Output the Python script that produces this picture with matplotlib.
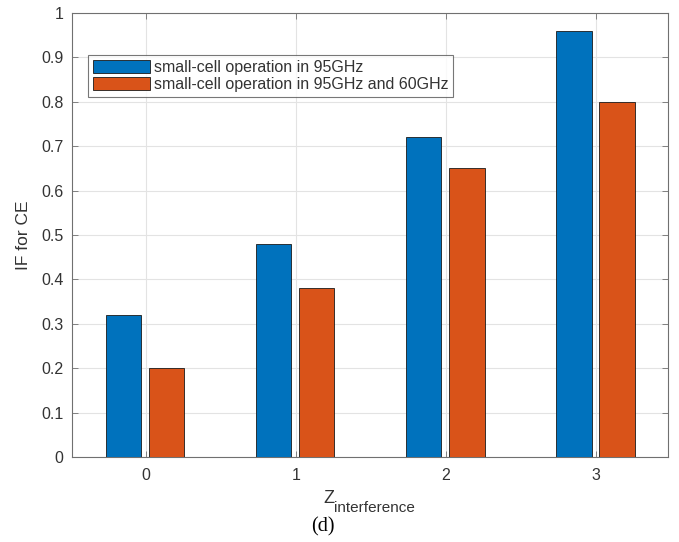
import matplotlib
matplotlib.use("Agg")
import matplotlib.pyplot as plt
import numpy as np

categories = [0, 1, 2, 3]
series1 = [0.32, 0.48, 0.72, 0.96]
series2 = [0.20, 0.38, 0.65, 0.80]
labels = ["small-cell operation in 95GHz", "small-cell operation in 95GHz and 60GHz"]
yticks = [0, 0.1, 0.2, 0.3, 0.4, 0.5, 0.6, 0.7, 0.8, 0.9, 1]
ytick_labels = ["0", "0.1", "0.2", "0.3", "0.4", "0.5", "0.6", "0.7", "0.8", "0.9", "1"]

plt.rcParams['font.family'] = ['Liberation Sans', 'DejaVu Sans']
txt = '#333333'

fig = plt.figure(figsize=(6.79, 5.42), dpi=100)
ax = fig.add_axes([0.106, 0.157, 0.878, 0.819])

x = np.array(categories, dtype=float)
w = 0.235
ax.bar(x - 0.147, series1, width=w, color='#0072BD', edgecolor='#1a1a1a', linewidth=0.6, label=labels[0], zorder=3)
ax.bar(x + 0.14, series2, width=w, color='#D95319', edgecolor='#1a1a1a', linewidth=0.6, label=labels[1], zorder=3)

ax.set_xlim(-0.49, 3.48)
ax.set_ylim(0, 1)
ax.set_xticks(categories)
ax.set_xticklabels([str(c) for c in categories])
ax.set_yticks(yticks)
ax.set_yticklabels(ytick_labels)
ax.grid(True, color='#e3e3e3', linewidth=0.8, zorder=0)
ax.set_axisbelow(True)
for s in ax.spines.values():
    s.set_color('#707070')
    s.set_linewidth(0.8)
ax.tick_params(colors=txt, labelsize=11.5, direction='in', length=4, width=0.6)
ax.tick_params(axis='x', pad=8)
ax.tick_params(axis='y', pad=6)
ax.tick_params(top=True, right=True)
ax.tick_params(axis='both', which='both', color='#707070')

ax.set_ylabel('IF for CE', fontsize=12.5, color=txt)
ax.yaxis.set_label_coords(-0.068, 0.5)

# x label: "Z" with subscript "interference"
fig.text(323 / 679, 1 - 503 / 542, 'Z', fontsize=13, color=txt, ha='left', va='baseline')
fig.text(334 / 679, 1 - 512 / 542, 'interference', fontsize=11, color=txt, ha='left', va='baseline')

leg = ax.legend(loc='upper left', bbox_to_anchor=(0.0268, 0.9054), fontsize=11.5, frameon=True,
                fancybox=False, edgecolor='#555555', handlelength=3.57, handleheight=0.875,
                borderpad=0.3, labelspacing=0.15, handletextpad=0.25, borderaxespad=0)
leg.get_frame().set_linewidth(0.8)
for t in leg.get_texts():
    t.set_color(txt)

fig.text(322.5 / 679, 1 - 531 / 542, '(d)', fontsize=14.5, family='Liberation Serif', ha='center',
         va='baseline', color='black')

fig.savefig('out.png', dpi=100)
